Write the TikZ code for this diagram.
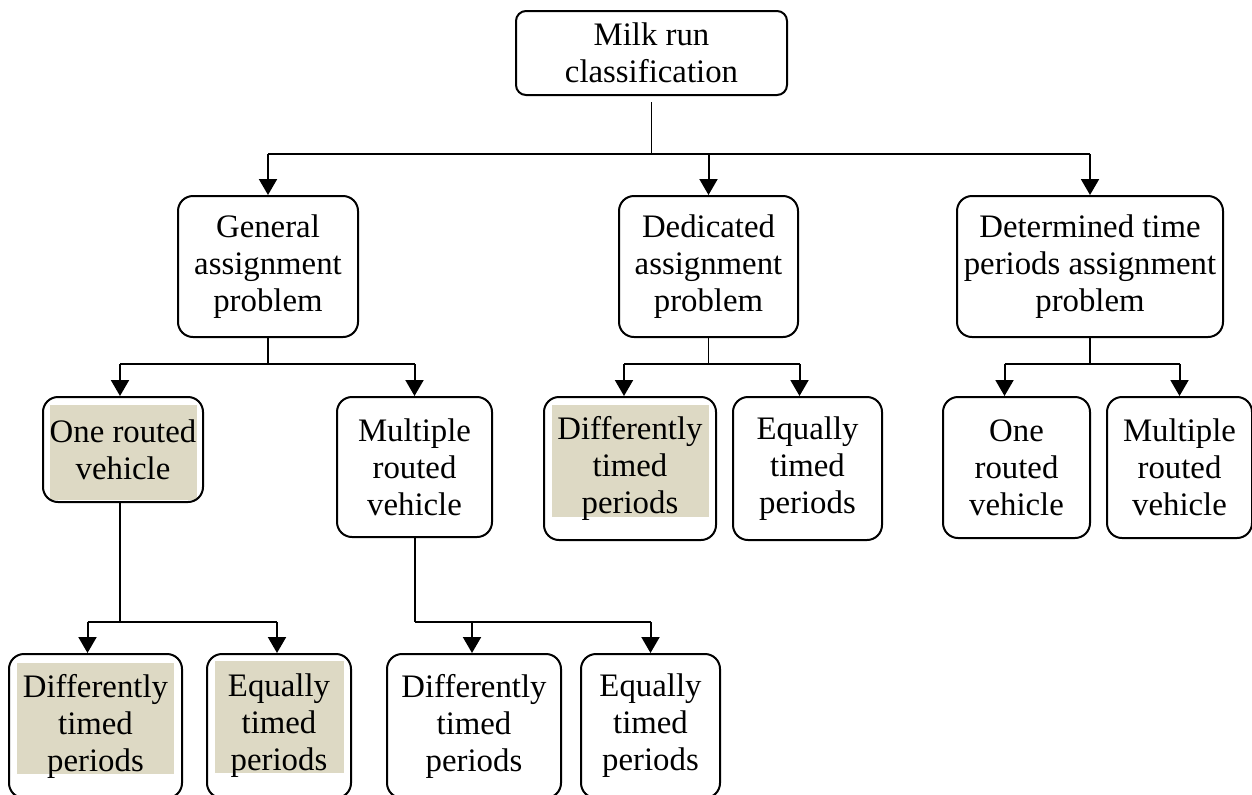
\documentclass[tikz,border=0pt]{standalone}
\usepackage{fontspec}
\setmainfont{Liberation Serif}
\usetikzlibrary{arrows.meta}
\definecolor{hilite}{RGB}{221,217,196}
\begin{document}
\begin{tikzpicture}[x=0.5pt,y=-0.5pt,
  box/.style={draw, line width=1pt, rounded corners=7.5pt, align=center,
    font=\fontsize{16.4}{18.5}\selectfont, inner sep=0pt},
  wire/.style={line width=1pt},
  arr/.style={wire, -{Triangle[length=8pt,width=9pt]}},
]
\useasboundingbox (0,0) rectangle (1252,794);

% shaded backgrounds of the highlighted categories
\fill[hilite] (50,405) rectangle (197,500);
\fill[hilite] (552,405) rectangle (709,517);
\fill[hilite] (17,663) rectangle (174,774);
\fill[hilite] (215,661) rectangle (344,773);

% root
\node[box, rounded corners=5pt, minimum width=135.5pt, minimum height=42pt] (root) at (651.5,53) {Milk run\\classification};

% first level
\node[box, minimum width=90pt, minimum height=70.5pt] (gen) at (268,266.5) {General\\assignment\\problem};
\node[box, minimum width=89.5pt, minimum height=70.5pt] (ded) at (708.5,266.5) {Dedicated\\assignment\\problem};
\node[box, minimum width=133pt, minimum height=70.5pt] (det) at (1090,266.5) {Determined time\\periods assignment\\problem};

% second level
\node[box, minimum width=80pt, minimum height=52.5pt] (one1) at (123,449.5) {One routed\\vehicle};
\node[box, minimum width=77.5pt, minimum height=70pt] (mul1) at (414.5,467) {Multiple\\routed\\vehicle};
\node[box, minimum width=86pt, minimum height=71.5pt] (dif2) at (630,468.5) {Differently\\timed\\periods};
\node[box, minimum width=74.5pt, minimum height=71.5pt] (eq2) at (807.5,468.5) {Equally\\timed\\periods};
\node[box, minimum width=73.5pt, minimum height=70.5pt] (one3) at (1016.5,467.5) {One\\routed\\vehicle};
\node[box, minimum width=72.5pt, minimum height=70.5pt] (mul3) at (1179.5,467.5) {Multiple\\routed\\vehicle};

% third level
\node[box, minimum width=86.5pt, minimum height=72pt] (difa) at (95.5,726) {Differently\\timed\\periods};
\node[box, minimum width=72pt, minimum height=72pt] (eqa) at (279,726) {Equally\\timed\\periods};
\node[box, minimum width=87pt, minimum height=72pt] (difb) at (474,726) {Differently\\timed\\periods};
\node[box, minimum width=69.5pt, minimum height=72pt] (eqb) at (650.5,726) {Equally\\timed\\periods};

% bus heights
\coordinate (b0) at (0,154);
\coordinate (b1) at (0,364);
\coordinate (b2) at (0,622);

% arrow landing points
\coordinate (tg) at (gen.north);
\coordinate (td) at (ded.north);
\coordinate (tt) at (det.north);
\coordinate (t1a) at ([xshift=-1.5pt]one1.north);
\coordinate (t1b) at (mul1.north);
\coordinate (t2a) at ([xshift=-3pt]dif2.north);
\coordinate (t2b) at ([xshift=-4pt]eq2.north);
\coordinate (t3a) at ([xshift=-6pt]one3.north);
\coordinate (t3b) at (mul3.north);
\coordinate (t4a) at ([xshift=-4pt]difa.north);
\coordinate (t4b) at ([xshift=-1pt]eqa.north);
\coordinate (t5a) at ([xshift=-1pt]difb.north);
\coordinate (t5b) at (eqb.north);

% root to first level
\draw[wire, line width=0.75pt] ([yshift=-3pt]root.south) -- (root.south |- b0);
\draw[wire] (tg |- b0) -- (tt |- b0);
\draw[arr] (tg |- b0) -- (tg);
\draw[arr] (td |- b0) -- (td);
\draw[arr] (tt |- b0) -- (tt);

% general assignment problem
\draw[wire, line width=0.75pt] (gen.south) -- (gen.south |- b1);
\draw[wire] (t1a |- b1) -- (t1b |- b1);
\draw[arr] (t1a |- b1) -- (t1a);
\draw[arr] (t1b |- b1) -- (t1b);

% dedicated assignment problem
\draw[wire, line width=0.75pt] (ded.south) -- (ded.south |- b1);
\draw[wire] (t2a |- b1) -- (t2b |- b1);
\draw[arr] (t2a |- b1) -- (t2a);
\draw[arr] (t2b |- b1) -- (t2b);

% determined time periods assignment problem
\draw[wire] (det.south) -- (det.south |- b1);
\draw[wire] (t3a |- b1) -- (t3b |- b1);
\draw[arr] (t3a |- b1) -- (t3a);
\draw[arr] (t3b |- b1) -- (t3b);

% one routed vehicle
\draw[wire] ([xshift=-1.5pt]one1.south) -- (t1a |- b2);
\draw[wire] (t4a |- b2) -- (t4b |- b2);
\draw[arr] (t4a |- b2) -- (t4a);
\draw[arr] (t4b |- b2) -- (t4b);

% multiple routed vehicle
\draw[wire] (mul1.south) -- (mul1.south |- b2);
\draw[wire] (mul1.south |- b2) -- (t5b |- b2);
\draw[arr] (t5a |- b2) -- (t5a);
\draw[arr] (t5b |- b2) -- (t5b);
\end{tikzpicture}
\end{document}
